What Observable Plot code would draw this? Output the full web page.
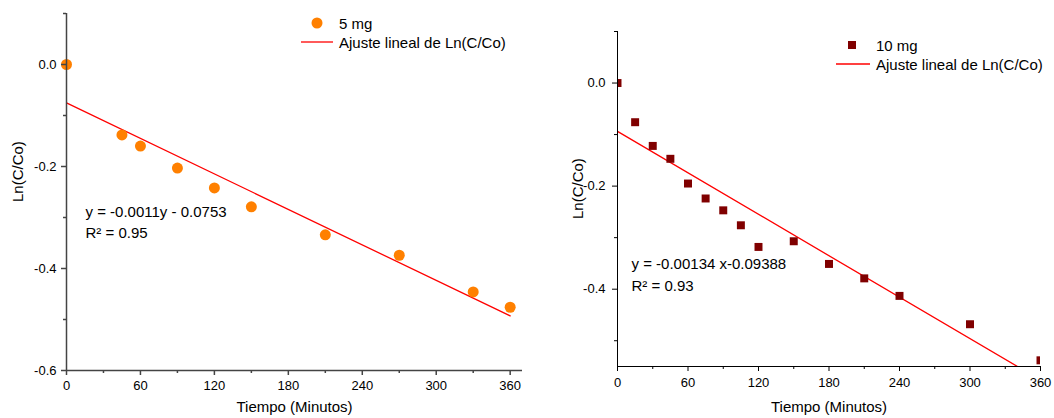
<!DOCTYPE html>
<html><head><meta charset="utf-8">
<script src="https://cdn.jsdelivr.net/npm/d3@7"></script>
<script src="https://cdn.jsdelivr.net/npm/@observablehq/plot@0.6"></script>
<style>
body{margin:0;background:#fff;font-family:"Liberation Sans",Arial,sans-serif;}
#wrap{position:relative;width:1054px;height:418px;overflow:hidden;background:#fff;}
.chart{position:absolute;top:0;}
.item{position:absolute;display:flex;align-items:center;white-space:nowrap;height:18px;font-size:15px;color:#000;font-family:"Liberation Sans",Arial,sans-serif;}
.item svg{margin-right:4px;}
</style></head><body><div id="wrap"></div>
<script>
// ---- data ----
const time5 = [0, 45, 60, 90, 120, 150, 210, 270, 330, 360];
const lnC5 = [0, -0.138, -0.160, -0.203, -0.242, -0.279, -0.334, -0.374, -0.446, -0.476];
const time10 = [0, 15, 30, 45, 60, 75, 90, 105, 120, 150, 180, 210, 240, 300, 360];
const lnC10 = [0, -0.076, -0.122, -0.147, -0.195, -0.224, -0.247, -0.276, -0.318, -0.307, -0.351, -0.379, -0.413, -0.468, -0.538];
const fit5 = {slope: -0.00116, intercept: -0.0753};
const fit10 = {slope: -0.00134, intercept: -0.09388};
const fitRange = [0, 360];
const xMajor = [0, 60, 120, 180, 240, 300, 360];
const xMinor = [30, 90, 150, 210, 270, 330];
const yMajor5 = [0, -0.2, -0.4, -0.6];
const yMajor10 = [0, -0.2, -0.4];
const yMinor = [0.1, -0.1, -0.3, -0.5];
const series5 = "5 mg", series10 = "10 mg";
const fitLabel = "Ajuste lineal de Ln(C/Co)";
const note5 = "y = -0.0011y - 0.0753\nR\u00B2 = 0.95";
const note10 = "y = -0.00134 x-0.09388\nR\u00B2 = 0.93";
const xTitle = "Tiempo (Minutos)";
const yTitle = "Ln(C/Co)";
const orange = "#FF8000", darkRed = "#800000", red = "#FF0000";

function makeChart(o) {
  const pts = o.xs.map((x, i) => ({x, y: o.ys[i]}));
  const fitPts = fitRange.map(x => ({x, y: o.fit.intercept + o.fit.slope * x}));
  const [y0] = o.yDomain;
  return Plot.plot({
    width: o.width, height: o.height,
    marginLeft: o.ml, marginRight: o.mr, marginTop: o.mt, marginBottom: o.mb,
    style: {fontFamily: '"Liberation Sans", Arial, sans-serif', fontSize: "13px", color: "#000", background: "transparent", overflow: "visible"},
    x: {domain: o.xDomain},
    y: {domain: o.yDomain},
    marks: [
      Plot.line(fitPts, {x: "x", y: "y", stroke: red, strokeWidth: 1.3, clip: true}),
      o.symbol === "circle"
        ? Plot.dot(pts, {x: "x", y: "y", r: 5.5, fill: o.color, stroke: "none", clip: o.clip})
        : Plot.dot(pts, {x: "x", y: "y", r: 4.5, symbol: "square", fill: o.color, stroke: "none", clip: o.clip}),
      Plot.axisX(xMajor, {tickSize: 5, tickPadding: o.xPad, tickFormat: d => String(d), stroke: o.axisColor, strokeWidth: o.axisWidth, fill: "#000", label: null}),
      Plot.axisX(xMinor, {tickSize: 3, tickFormat: () => "", stroke: o.axisColor, strokeWidth: o.axisWidth, label: null}),
      Plot.axisY(o.yMajor, {tickSize: 5, tickPadding: o.yPad, tickFormat: d => d.toFixed(1), stroke: o.axisColor, strokeWidth: o.axisWidth, fill: "#000", label: null}),
      Plot.axisY(yMinor, {tickSize: 3, tickFormat: () => "", stroke: o.axisColor, strokeWidth: o.axisWidth, label: null}),
      Plot.ruleX([o.xDomain[0]], {stroke: o.axisColor, strokeWidth: o.axisWidth}),
      Plot.ruleY([y0], {stroke: o.axisColor, strokeWidth: o.axisWidth}),
      Plot.text([o.note], {frameAnchor: "top-left", dx: o.noteDx, dy: o.noteDy, text: d => d, textAnchor: "start", lineAnchor: "middle", lineHeight: o.noteLH, fontSize: 15, fill: "#000"}),
      Plot.text([xTitle], {frameAnchor: "bottom", dy: o.xTitleDy, text: d => d, lineAnchor: "middle", fontSize: 15, fill: "#000"}),
      Plot.text([yTitle], {frameAnchor: "left", dx: o.yTitleDx, dy: o.yTitleDy, rotate: -90, text: d => d, lineAnchor: "middle", fontSize: 15, fill: "#000"})
    ]
  });
}

const wrap = document.getElementById("wrap");

const left = makeChart({
  xs: time5, ys: lnC5, fit: fit5, symbol: "circle", color: orange, clip: false,
  xDomain: [0, 370], yDomain: [-0.6, 0.1], yMajor: yMajor5,
  width: 540, height: 418, ml: 66, mr: 18, mt: 13, mb: 48,
  axisColor: "#444", axisWidth: 1.5, xPad: 5, yPad: 5,
  note: note5, noteDx: 19, noteDy: 207, noteLH: 1.4,
  xTitleDy: 37, yTitleDx: -48, yTitleDy: 10
});
left.classList.add("chart"); left.style.left = "0px";
wrap.appendChild(left);

const right = makeChart({
  xs: time10, ys: lnC10, fit: fit10, symbol: "square", color: darkRed, clip: true,
  xDomain: [0, 360], yDomain: [-0.55, 0.1], yMajor: yMajor10,
  width: 514, height: 418, ml: 77, mr: 14, mt: 31, mb: 52,
  axisColor: "#000", axisWidth: 1, xPad: 6, yPad: 7,
  note: note10, noteDx: 14, noteDy: 241, noteLH: 1.47,
  xTitleDy: 41, yTitleDx: -39, yTitleDy: 20
});
right.classList.add("chart"); right.style.left = "540px";
wrap.appendChild(right);

// ---- legends ----
function legendItem(left, cy, svgW, symbolSvg, label) {
  const d = document.createElement("div");
  d.className = "item";
  d.style.left = left + "px";
  d.style.top = (cy - 9) + "px";
  d.innerHTML = `<svg width="${svgW}" height="18">${symbolSvg}</svg><span>${label}</span>`;
  wrap.appendChild(d);
}
legendItem(299, 23, 36, `<circle cx="18" cy="9" r="5.5" fill="${orange}"/>`, series5);
legendItem(299, 42, 36, `<line x1="2" x2="34" y1="9" y2="9" stroke="${red}" stroke-width="1.3"/>`, fitLabel);
legendItem(834, 45, 38, `<rect x="14" y="5" width="8" height="8" fill="${darkRed}"/>`, series10);
legendItem(834, 64, 38, `<line x1="2" x2="36" y1="9" y2="9" stroke="${red}" stroke-width="1.3"/>`, fitLabel);
</script>
</body></html>
